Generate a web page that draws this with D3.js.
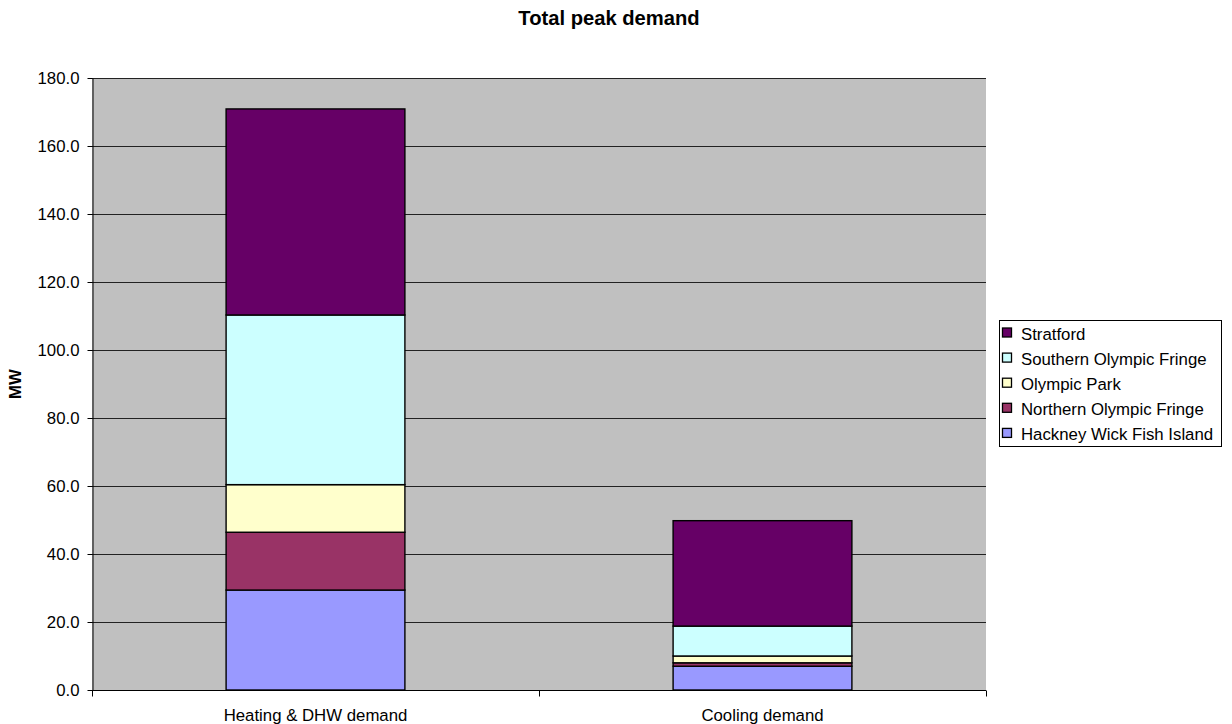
<!DOCTYPE html>
<html>
<head>
<meta charset="utf-8">
<script src="https://cdn.jsdelivr.net/npm/d3@7/dist/d3.min.js"></script>
<style>
  html, body { margin: 0; padding: 0; background: #ffffff; }
  svg { display: block; font-family: "Liberation Sans", Arial, sans-serif; }
</style>
</head>
<body>
<svg id="chart" width="1232" height="724"></svg>
<script>
// Peak demand (MW) per area, stacked for each demand type
const categories = ["Heating & DHW demand", "Cooling demand"];
const seriesNames = ["Hackney Wick Fish Island", "Northern Olympic Fringe", "Olympic Park", "Southern Olympic Fringe", "Stratford"];
const seriesColors = ["#9999FF", "#993366", "#FFFFCC", "#CCFFFF", "#660066"];
const hackneyWick = [29.4, 7.0];
const northernFringe = [17.0, 1.0];
const olympicPark = [14.0, 2.0];
const southernFringe = [49.9, 8.8];
const stratford = [60.6, 31.0];
const yTicks = [0, 20, 40, 60, 80, 100, 120, 140, 160, 180];

const seriesValues = [hackneyWick, northernFringe, olympicPark, southernFringe, stratford];
const rows = categories.map((c, i) => {
  const r = { category: c };
  seriesNames.forEach((s, j) => { r[s] = seriesValues[j][i]; });
  return r;
});
const stacked = d3.stack().keys(seriesNames)(rows);

const svg = d3.select("#chart");
const plot = { left: 92, top: 78, right: 986, bottom: 690 };
const fontSize = 16.8;

const x = d3.scaleBand().domain(categories)
  .range([plot.left, plot.right]).paddingInner(0.6).paddingOuter(0.3);
const xOuter = d3.scaleBand().domain(categories).range([plot.left, plot.right]);
const y = d3.scaleLinear().domain([0, 180]).range([plot.bottom, plot.top]);

// Title
svg.append("text")
  .attr("x", 609).attr("y", 25)
  .attr("text-anchor", "middle")
  .attr("font-size", 20.2).attr("font-weight", "bold")
  .text("Total peak demand");

// Plot background
svg.append("rect")
  .attr("x", plot.left).attr("y", plot.top)
  .attr("width", plot.right - plot.left).attr("height", plot.bottom - plot.top)
  .attr("fill", "#C0C0C0");

// Horizontal gridlines
svg.append("g").selectAll("line")
  .data(yTicks.filter(t => t > 0))
  .join("line")
  .attr("x1", plot.left).attr("x2", plot.right)
  .attr("y1", d => Math.round(y(d)) + 0.5).attr("y2", d => Math.round(y(d)) + 0.5)
  .attr("stroke", "#222").attr("stroke-width", 1);

// Stacked bars
svg.append("g").selectAll("g")
  .data(stacked)
  .join("g")
  .attr("fill", (d, i) => seriesColors[i])
  .selectAll("rect")
  .data(d => d)
  .join("rect")
  .attr("x", d => x(d.data.category))
  .attr("y", d => y(d[1]))
  .attr("width", x.bandwidth())
  .attr("height", d => y(d[0]) - y(d[1]))
  .attr("stroke", "#000").attr("stroke-width", 1.4);

// Y axis
const yAxis = d3.axisLeft(y).tickValues(yTicks).tickFormat(d3.format(".1f")).tickSize(5).tickSizeOuter(0);
const gy = svg.append("g").attr("transform", `translate(${plot.left + 0.5},0)`).call(yAxis);
gy.select(".domain").attr("stroke", "#000");
gy.selectAll(".tick line").attr("stroke", "#000");
gy.selectAll(".tick text").attr("font-size", fontSize).attr("fill", "#000")
  .attr("font-family", "Liberation Sans, Arial, sans-serif").attr("x", -13);

// X axis with ticks at category boundaries
const gx = svg.append("g").attr("transform", `translate(0,${plot.bottom + 0.5})`);
gx.append("line").attr("x1", plot.left).attr("x2", plot.right).attr("stroke", "#000");
const bounds = [plot.left].concat(categories.map(c => xOuter(c) + xOuter.bandwidth()));
gx.selectAll("line.tk").data(bounds).join("line").attr("class", "tk")
  .attr("x1", d => Math.round(d) + 0.5).attr("x2", d => Math.round(d) + 0.5)
  .attr("y1", 0).attr("y2", 6).attr("stroke", "#000");
gx.selectAll("text").data(categories).join("text")
  .attr("x", d => xOuter(d) + xOuter.bandwidth() / 2)
  .attr("y", 30.5)
  .attr("text-anchor", "middle").attr("font-size", fontSize)
  .text(d => d);

// Y axis title
svg.append("text")
  .attr("transform", `translate(21,${(plot.top + plot.bottom) / 2}) rotate(-90)`)
  .attr("text-anchor", "middle").attr("font-size", fontSize).attr("font-weight", "bold")
  .text("MW");

// Legend (Stratford on top)
const legend = svg.append("g");
legend.append("rect")
  .attr("x", 999.5).attr("y", 320.5).attr("width", 222).attr("height", 126)
  .attr("fill", "#fff").attr("stroke", "#000");
const legendOrder = seriesNames.map((s, i) => ({ name: s, color: seriesColors[i] })).reverse();
const li = legend.selectAll("g").data(legendOrder).join("g")
  .attr("transform", (d, i) => `translate(1002,${339.5 + i * 25.1})`);
li.append("rect").attr("x", 0.5).attr("y", -11.5).attr("width", 9).attr("height", 9)
  .attr("fill", d => d.color).attr("stroke", "#000").attr("stroke-width", 1.3);
li.append("text").attr("x", 19).attr("y", 0).attr("font-size", fontSize).text(d => d.name);
</script>
</body>
</html>
